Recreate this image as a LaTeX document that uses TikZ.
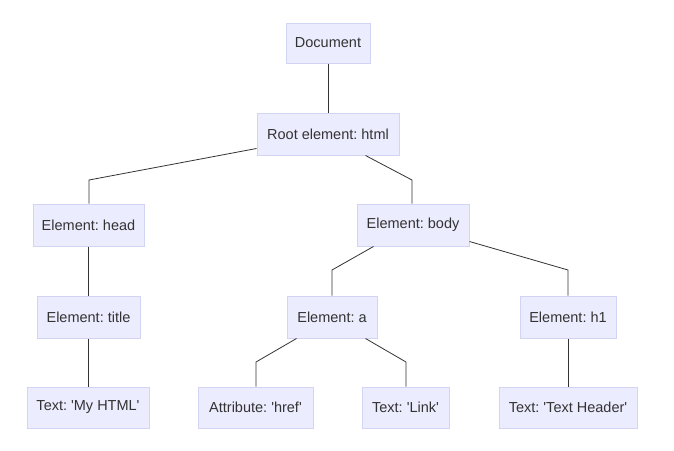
\documentclass[tikz,border=0pt]{standalone}
\usepackage{fontspec}
\newfontfamily\boxfont[Mapping=]{Liberation Sans}
\frenchspacing
\definecolor{boxfill}{HTML}{ECECFF}
\definecolor{boxline}{HTML}{D3D3F3}
\definecolor{txt}{HTML}{333333}
\definecolor{edge}{HTML}{333333}
\begin{document}
\begin{tikzpicture}[x=1pt,y=-1pt,
  box/.style={draw=boxline,fill=boxfill,line width=1pt,inner sep=0pt,
    text=txt,font=\boxfont\fontsize{14.5}{17}\selectfont},
  link/.style={draw=edge,line width=0.8pt}]
\useasboundingbox (0,0) rectangle (674,450);
\fill[white] (0,0) rectangle (674,450);
\node[box,minimum width=84pt,minimum height=40pt] (doc) at (328,43) {Document};
\node[box,minimum width=142pt,minimum height=42pt] (root) at (328,134) {Root element: html};
\node[box,minimum width=111pt,minimum height=42pt] (head) at (88.5,225) {Element: head};
\node[box,minimum width=112pt,minimum height=42pt] (body) at (413,225) {Element: body};
\node[box,minimum width=103pt,minimum height=42pt] (title) at (88.5,317) {Element: title};
\node[box,minimum width=90pt,minimum height=42pt] (a) at (332,317) {Element: a};
\node[box,minimum width=96pt,minimum height=42pt] (h1) at (568,317) {Element: h1};
\node[box,minimum width=122pt,minimum height=41pt] (myhtml) at (88,407.5) {Text: 'My HTML'};
\node[box,minimum width=115pt,minimum height=41pt] (href) at (255.5,407.5) {Attribute: 'href'};
\node[box,minimum width=87pt,minimum height=41pt] (lnk) at (405.5,407.5) {Text: 'Link'};
\node[box,minimum width=138pt,minimum height=41pt] (thead) at (568,407.5) {Text: 'Text Header'};
\coordinate (c1) at (89,180);
\coordinate (c2) at (412,180);
\coordinate (c3) at (332,270);
\coordinate (c4) at (568,270);
\coordinate (c5) at (256,362);
\coordinate (c6) at (406,362);
\draw[link] (doc.south) -- (root.north);
\draw[link] ([yshift=7pt]root.south west) -- (c1) -- (head.north -| c1);
\draw[link] ([xshift=-34pt]root.south east) -- (c2) -- (body.north -| c2);
\draw[link] ([xshift=17pt]body.south west) -- (c3) -- (a.north -| c3);
\draw[link] ([yshift=5pt]body.south east) -- (c4) -- (h1.north -| c4);
\draw[link] (head.south) -- (title.north);
\draw[link] (title.south) -- (myhtml.north -| title.south);
\draw[link] ([xshift=10pt]a.south west) -- (c5) -- (href.north -| c5);
\draw[link] ([xshift=-12pt]a.south east) -- (c6) -- (lnk.north -| c6);
\draw[link] (h1.south) -- (thead.north);
\end{tikzpicture}
\end{document}
